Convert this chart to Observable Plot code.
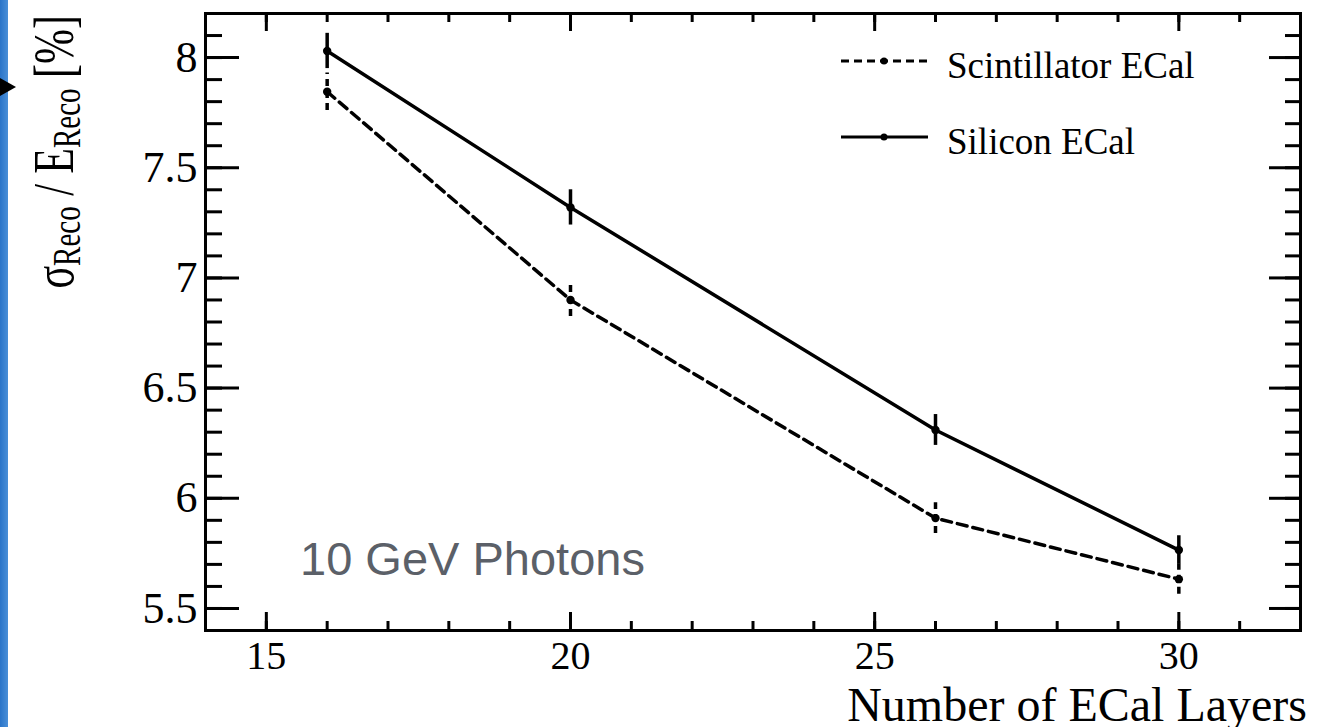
<!DOCTYPE html>
<html>
<head>
<meta charset="utf-8">
<script src="https://cdn.jsdelivr.net/npm/d3@7"></script>
<script src="https://cdn.jsdelivr.net/npm/@observablehq/plot@0.6"></script>
<style>
  html, body { margin: 0; padding: 0; background: #fff; }
  #wrap { position: relative; width: 1334px; height: 727px; overflow: hidden; }
  #edge { position: absolute; left: 0; top: 0; width: 8px; height: 727px;
          background: linear-gradient(to right, #2a74c8, #4a8fd8); }
  #arrow { position: absolute; left: 0; top: 78px; width: 0; height: 0;
           border-top: 9px solid transparent; border-bottom: 9px solid transparent;
           border-left: 16px solid #000; }
</style>
</head>
<body>
<div id="wrap"><div id="edge"></div><div id="arrow"></div></div>
<script>
// ---- data ----
const layers = [16, 20, 26, 30];
const siliconRes = [8.03, 7.32, 6.31, 5.765];
const siliconErr = [0.08, 0.08, 0.07, 0.065];
const scintRes = [7.845, 6.90, 5.91, 5.633];
const scintErr = [0.085, 0.075, 0.07, 0.068];
const xMajorTicks = [15, 20, 25, 30];
const xMinorTicks = d3.range(14, 33);
const yMajorTicks = [5.5, 6, 6.5, 7, 7.5, 8];
const yMinorTicks = d3.range(54, 83).map(d => d / 10);
const seriesNames = ["Scintillator ECal", "Silicon ECal"];
const xTitle = "Number of ECal Layers";
const annotation = "10 GeV Photons";

const silicon = layers.map((x, i) => ({x, y: siliconRes[i], e: siliconErr[i]}));
const scint = layers.map((x, i) => ({x, y: scintRes[i], e: scintErr[i]}));

const serif = "Liberation Serif, Times New Roman, serif";
const dash = "10,6";

const plot = Plot.plot({
  width: 1334,
  height: 727,
  marginLeft: 205,
  marginRight: 34,
  marginTop: 13,
  marginBottom: 97,
  style: {background: "transparent", fontFamily: serif, color: "#000"},
  x: {domain: [14, 32], axis: null},
  y: {domain: [5.4, 8.2], axis: null},
  marks: [
    // inner ticks, ROOT style
    Plot.axisX({anchor: "bottom", ticks: xMinorTicks, tickSize: -9, strokeWidth: 3, tickFormat: () => "", label: null}),
    Plot.axisX({anchor: "bottom", ticks: xMajorTicks, tickSize: -18, strokeWidth: 3, tickFormat: () => "", label: null}),
    Plot.axisX({anchor: "top", ticks: xMinorTicks, tickSize: -8, strokeWidth: 3, tickFormat: () => "", label: null}),
    Plot.axisX({anchor: "top", ticks: xMajorTicks, tickSize: -17, strokeWidth: 3, tickFormat: () => "", label: null}),
    Plot.axisY({anchor: "left", ticks: yMinorTicks, tickSize: -17, strokeWidth: 3, tickFormat: () => "", label: null}),
    Plot.axisY({anchor: "left", ticks: yMajorTicks, tickSize: -34, strokeWidth: 3, tickFormat: () => "", label: null}),
    Plot.axisY({anchor: "right", ticks: yMinorTicks, tickSize: -16, strokeWidth: 3, tickFormat: () => "", label: null}),
    Plot.axisY({anchor: "right", ticks: yMajorTicks, tickSize: -32, strokeWidth: 3, tickFormat: () => "", label: null}),
    // tick labels
    Plot.axisX({anchor: "bottom", ticks: xMajorTicks, tickSize: 0, tickPadding: 10, fontSize: 40, fontFamily: serif, label: null}),
    Plot.axisY({anchor: "left", ticks: yMajorTicks, tickSize: 0, tickPadding: 8, fontSize: 44, fontFamily: serif, label: null, tickFormat: d => String(d)}),
    Plot.frame({stroke: "#000", strokeWidth: 3}),
    // data
    Plot.line(scint, {x: "x", y: "y", stroke: "#000", strokeWidth: 3.5, strokeDasharray: dash}),
    Plot.ruleX(scint, {x: "x", y1: d => d.y - d.e, y2: d => d.y + d.e, stroke: "#000", strokeWidth: 3.5, strokeDasharray: "7,5"}),
    Plot.dot(scint, {x: "x", y: "y", r: 4.2, fill: "#000"}),
    Plot.line(silicon, {x: "x", y: "y", stroke: "#000", strokeWidth: 3.5}),
    Plot.ruleX(silicon, {x: "x", y1: d => d.y - d.e, y2: d => d.y + d.e, stroke: "#000", strokeWidth: 3.5}),
    Plot.dot(silicon, {x: "x", y: "y", r: 4.2, fill: "#000"})
  ]
});

const wrap = document.getElementById("wrap");
plot.style.position = "absolute";
plot.style.left = "0";
plot.style.top = "0";
wrap.insertBefore(plot, wrap.firstChild);

const svg = d3.select(plot);

// legend
const legend = svg.append("g").attr("text-anchor", "start");
seriesNames.forEach((name, i) => {
  const ly = i === 0 ? 61 : 137;
  legend.append("line").attr("x1", 841).attr("x2", 928).attr("y1", ly).attr("y2", ly)
    .attr("stroke", "#000").attr("stroke-width", 3)
    .attr("stroke-dasharray", i === 0 ? "8,5" : null);
  legend.append("circle").attr("cx", 884).attr("cy", ly).attr("r", 3.5).attr("fill", "#000");
  legend.append("text").attr("x", 947).attr("y", ly + 17).attr("text-anchor", "start")
    .attr("font-family", serif).attr("font-size", 37).attr("fill", "#000").text(name);
});

// annotation
svg.append("text").attr("x", 300).attr("y", 575).attr("text-anchor", "start")
  .attr("font-family", "Liberation Sans, Arial, sans-serif").attr("font-size", 47)
  .attr("fill", "#5b6068").text(annotation);

// x title
svg.append("text").attr("x", 1307).attr("y", 721).attr("text-anchor", "end")
  .attr("font-family", serif).attr("font-size", 48).attr("fill", "#000").text(xTitle);

// y title with subscripts
const yt = svg.append("text")
  .attr("transform", "translate(73,15) rotate(-90) scale(1,1.35)")
  .attr("text-anchor", "end")
  .attr("font-family", serif).attr("font-size", 42).attr("fill", "#000");
yt.append("tspan").text("σ");
yt.append("tspan").attr("font-size", 29).attr("dy", 5).text("Reco");
yt.append("tspan").attr("dy", -5).text(" / E");
yt.append("tspan").attr("font-size", 29).attr("dy", 5).text("Reco");
yt.append("tspan").attr("dy", -5).text(" [%]");
</script>
</body>
</html>
